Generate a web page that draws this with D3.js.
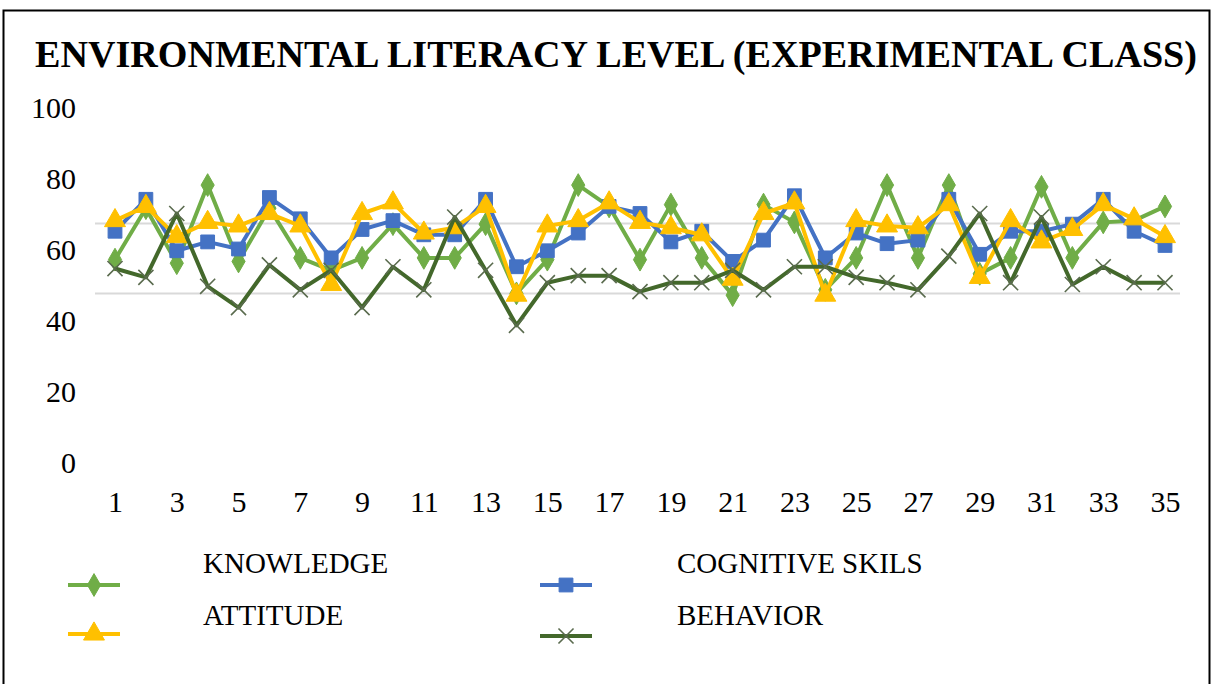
<!DOCTYPE html>
<html lang="en">
<head>
    <meta charset="UTF-8">
    <title>Environmental Literacy Level (Experimental Class)</title>
    <script src="https://d3js.org/d3.v7.min.js"></script>
    <style>
        body { margin: 0; background: #fff; }
        text { font-family: "Liberation Serif", "DejaVu Serif", serif; fill: #000; }
    </style>
</head>
<body>
    <svg id="chart"></svg>
    <script>
        // Students 1..35
        const students = [1, 2, 3, 4, 5, 6, 7, 8, 9, 10, 11, 12, 13, 14, 15, 16, 17, 18, 19, 20,
            21, 22, 23, 24, 25, 26, 27, 28, 29, 30, 31, 32, 33, 34, 35];
        const xTicks = [1, 3, 5, 7, 9, 11, 13, 15, 17, 19, 21, 23, 25, 27, 29, 31, 33, 35];
        const yTicks = [0, 20, 40, 60, 80, 100];
        const gridValues = [47.5, 67.2];

        // Scores
        const knowledge = [57, 71.5, 56, 78, 56.5, 71.5, 57.5, 54, 57.5, 67, 57.5, 57.5, 67, 47.5, 57, 78, 72, 57,
            72.5, 57.5, 47, 72.5, 67.5, 48.5, 57.5, 78, 57.5, 78, 53, 57.5, 77.5, 57.5, 67.5, 68, 72];
        const cognitive = [65, 74, 59.5, 62, 60, 74.5, 68.5, 57.5, 65.5, 68, 64, 64, 74, 55, 59.5, 64.5, 72, 70,
            62, 65, 56.5, 62.5, 75, 57.5, 64.5, 61.5, 62.5, 74, 58.5, 65, 65, 67, 74, 65, 61];
        const attitude = [68, 72, 63.5, 67.5, 66.5, 70, 66.5, 50, 70, 73, 64.5, 66, 72, 47, 66.5, 68, 73, 67.5,
            66, 64, 51.5, 70, 73, 47, 68, 66.5, 66, 72.5, 52, 68, 62, 65.5, 72.5, 68.5, 63.5];
        const behavior = [54.5, 52, 70, 49.5, 43.5, 55.5, 48.5, 54, 43.5, 55, 48.5, 69, 54, 38.5, 50.5, 52.5, 52.5, 48,
            50.5, 50.5, 54, 48.5, 55, 55, 52, 50.5, 48.5, 58, 70, 50.5, 69, 50, 55, 50.5, 50.5];

        const seriesNames = ["KNOWLEDGE", "COGNITIVE SKILS", "ATTITUDE", "BEHAVIOR"];
        const seriesData = [knowledge, cognitive, attitude, behavior];
        const colors = ["#70AD47", "#4472C4", "#FFC000", "#43682B"];
        const markers = ["diamond", "square", "triangle", "cross"];

        const W = 1214, H = 684;
        const svg = d3.select("#chart").attr("width", W).attr("height", H);

        // outer frame
        svg.append("rect")
            .attr("x", 3.5).attr("y", 10.5)
            .attr("width", 1206).attr("height", 700)
            .attr("fill", "none").attr("stroke", "#000").attr("stroke-width", 2);

        // title
        svg.append("text")
            .attr("x", 35).attr("y", 67)
            .attr("font-size", 37).attr("font-weight", "bold")
            .attr("textLength", 1162).attr("lengthAdjust", "spacingAndGlyphs")
            .text("ENVIRONMENTAL LITERACY LEVEL (EXPERIMENTAL CLASS)");

        const x = d3.scaleLinear().domain([1, 35]).range([115, 1165]);
        const y = d3.scaleLinear().domain([0, 100]).range([462, 107]);

        // light grid lines
        svg.append("g").selectAll("line")
            .data(gridValues)
            .enter().append("line")
            .attr("x1", 95).attr("x2", 1180)
            .attr("y1", d => y(d)).attr("y2", d => y(d))
            .attr("stroke", "#d9d9d9").attr("stroke-width", 2);

        // Y axis
        const yAxis = svg.append("g")
            .attr("transform", "translate(76,0)")
            .call(d3.axisLeft(y).tickValues(yTicks).tickSize(0).tickPadding(0));
        yAxis.select(".domain").remove();
        yAxis.selectAll("text")
            .attr("font-size", 30).attr("font-family", "Liberation Serif").attr("dy", "0.35em");

        // X axis
        const xAxis = svg.append("g")
            .attr("transform", "translate(0,485)")
            .call(d3.axisBottom(x).tickValues(xTicks).tickSize(0).tickPadding(0));
        xAxis.select(".domain").remove();
        xAxis.selectAll("text")
            .attr("font-size", 30).attr("font-family", "Liberation Serif").attr("dy", "0.9em");

        const symbolType = {
            diamond: d3.symbolDiamond,
            square: d3.symbolSquare,
            triangle: d3.symbolTriangle,
            cross: d3.symbolX
        };
        const symbolSize = { diamond: 150, square: 190, triangle: 190, cross: 150 };

        function drawMarker(g, type, color) {
            const p = g.append("path")
                .attr("d", d3.symbol().type(symbolType[type]).size(symbolSize[type])());
            if (type === "cross") {
                p.attr("fill", "none").attr("stroke", "#5a6b4e").attr("stroke-width", 1.6);
            } else {
                p.attr("fill", color).attr("stroke", color).attr("stroke-width", 1);
            }
        }

        const line = d3.line()
            .x((d, i) => x(students[i]))
            .y(d => y(d));

        seriesData.forEach((vals, s) => {
            const g = svg.append("g");
            g.append("path")
                .attr("d", line(vals))
                .attr("fill", "none")
                .attr("stroke", colors[s])
                .attr("stroke-width", 4)
                .attr("stroke-linejoin", "round");
            vals.forEach((v, i) => {
                const m = g.append("g")
                    .attr("transform", `translate(${x(students[i])},${y(v)})`);
                drawMarker(m, markers[s], colors[s]);
            });
        });

        // legend (2 x 2)
        const legendPos = [
            { lx: 68, ly: 585, tx: 203, ty: 573 },
            { lx: 540, ly: 585, tx: 677, ty: 573 },
            { lx: 68, ly: 634, tx: 203, ty: 625 },
            { lx: 540, ly: 636, tx: 677, ty: 625 }
        ];
        seriesNames.forEach((name, s) => {
            const p = legendPos[s];
            const g = svg.append("g");
            g.append("line")
                .attr("x1", p.lx).attr("x2", p.lx + 52)
                .attr("y1", p.ly).attr("y2", p.ly)
                .attr("stroke", colors[s]).attr("stroke-width", 4);
            const m = g.append("g").attr("transform", `translate(${p.lx + 26},${p.ly})`);
            drawMarker(m, markers[s], colors[s]);
            g.append("text")
                .attr("x", p.tx).attr("y", p.ty)
                .attr("font-size", 29)
                .text(name);
        });
    </script>
</body>
</html>
